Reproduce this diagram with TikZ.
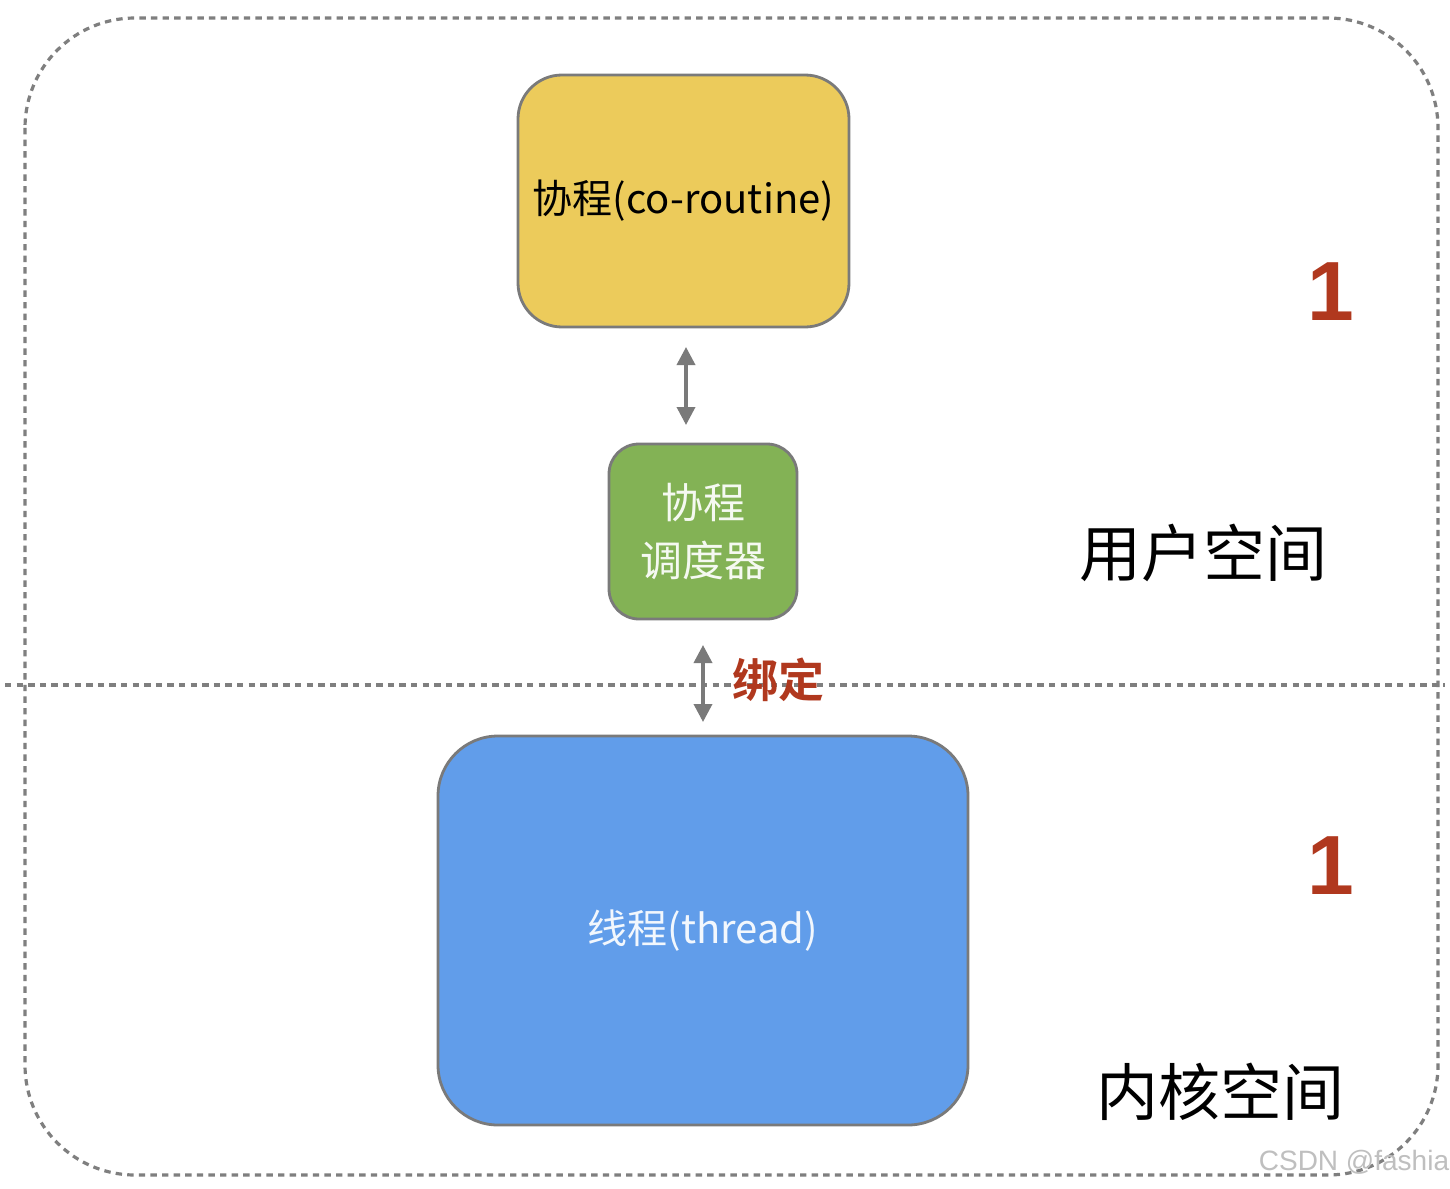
\documentclass[tikz,border=0pt]{standalone}
\usepackage{fontspec}
\setmainfont{Noto Sans CJK SC}
\newfontfamily\cjk{Noto Sans CJK SC}
\newfontfamily\cjkb{Noto Sans CJK SC Bold}
\newfontfamily\helv{Liberation Sans}
\usetikzlibrary{arrows.meta}
\definecolor{boxline}{HTML}{7A7A7A}
\definecolor{yel}{HTML}{ECCB5B}
\definecolor{grn}{HTML}{83B255}
\definecolor{blu}{HTML}{619DEA}
\definecolor{redt}{HTML}{B0381E}
\definecolor{dashc}{HTML}{7F7F7F}
\tikzset{
  box/.style={draw=boxline, line width=1.4pt, inner sep=0pt, align=center},
  dashline/.style={draw=dashc, line width=1.6pt, dash pattern=on 3.2pt off 2.6pt},
  darrow/.style={draw=boxline, line width=1.8pt, {Triangle[length=9pt,width=9pt]}-{Triangle[length=9pt,width=9pt]}},
  numtxt/.style={text=redt, font=\helv\bfseries\fontsize{42}{42}\selectfont},
  spacetxt/.style={font=\cjk\fontsize{31}{31}\selectfont},
}
\begin{document}
\begin{tikzpicture}[x=0.5pt,y=-0.5pt]
\useasboundingbox (0,0) rectangle (1450,1188);
\fill[white] (0,0) rectangle (1450,1188);
% outer dashed frame
\draw[dashline, rounded corners=55pt] (25,18) rectangle (1438,1175);
% divider
\coordinate (dl) at (5,685);
\coordinate (dr) at (1445,685);
\draw[dashline] (dl) -- (dr);
% boxes
\node[box, fill=yel, rounded corners=22pt, minimum width=165.5pt, minimum height=126pt,
      font=\cjk\fontsize{20}{20}\selectfont] (co) at (683.5,201) {协程(co-routine)};
\node[box, fill=grn, rounded corners=15pt, minimum width=94pt, minimum height=87.5pt,
      text=white!92!grn, font=\cjk\fontsize{21}{29}\selectfont] (sch) at (703,531.5) {协程\\调度器};
\node[box, fill=blu, rounded corners=30pt, minimum width=265pt, minimum height=194.5pt,
      text=white!92!blu, font=\cjk\fontsize{20}{20}\selectfont] (th) at (703,930.5) {线程(thread)};
% arrows
\coordinate (a1t) at (686,347);
\coordinate (a1b) at (686,425);
\draw[darrow] (a1t) -- (a1b);
\coordinate (a2t) at (703,645);
\coordinate (a2b) at (703,722);
\draw[darrow] (a2t) -- (a2b);
\node[text=redt, font=\cjkb\fontsize{23}{23}\selectfont] (bind) at (778,680) {绑定};
% labels
\node[numtxt] (n1) at (1331,292) {1};
\node[numtxt] (n2) at (1331,866) {1};
\node[spacetxt] (us) at (1203,553) {用户空间};
\node[spacetxt] (ks) at (1220,1092) {内核空间};
\node[text=black!25, font=\helv\fontsize{14}{14}\selectfont] (wm) at (1354,1162) {CSDN @fashia};
\end{tikzpicture}
\end{document}
